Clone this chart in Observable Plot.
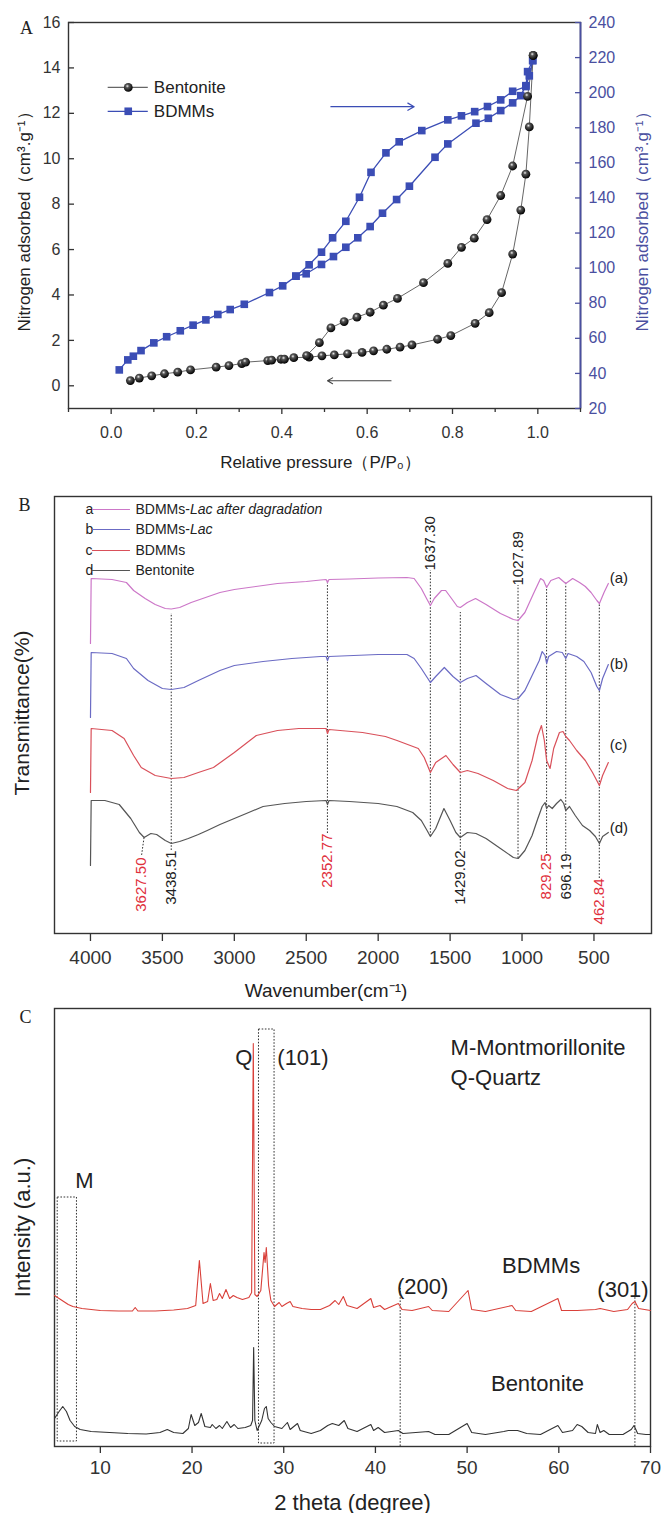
<!DOCTYPE html>
<html><head><meta charset="utf-8">
<script src="https://cdn.jsdelivr.net/npm/d3@7"></script>
<script src="https://cdn.jsdelivr.net/npm/@observablehq/plot@0.6"></script>
<style>
body{margin:0;background:#fff;}
#chart svg{display:block;}
</style></head><body><div id="chart"></div>
<script>
// ---------------- Panel A data (Relative pressure, N2 adsorbed) ----------------
const aLeftTicks = [0, 2, 4, 6, 8, 10, 12, 14, 16];
const aRightTicks = [20, 40, 60, 80, 100, 120, 140, 160, 180, 200, 220, 240];
const aMajorX = [0, 0.2, 0.4, 0.6, 0.8, 1.0];
const aMinorX = [-0.1, 0.1, 0.3, 0.5, 0.7, 0.9, 1.1];
// Bentonite (left axis, cm3/g)
const bentAds = [[0.045,0.23],[0.066,0.34],[0.095,0.44],[0.125,0.53],[0.156,0.60],[0.186,0.70],[0.246,0.82],[0.276,0.89],[0.306,0.98],[0.315,1.04],[0.367,1.11],[0.376,1.13],[0.398,1.17],[0.406,1.17],[0.428,1.24],[0.464,1.26],[0.494,1.32],[0.523,1.36],[0.554,1.41],[0.588,1.47],[0.615,1.54],[0.646,1.61],[0.677,1.70],[0.705,1.80],[0.765,2.05],[0.796,2.21],[0.853,2.75],[0.886,3.22],[0.915,4.10],[0.941,5.8],[0.960,7.74],[0.972,9.32],[0.980,11.40],[0.989,14.55]];
const bentDes = [[0.989,14.55],[0.976,12.75],[0.941,9.68],[0.913,8.38],[0.881,7.32],[0.851,6.5],[0.821,6.1],[0.789,5.39],[0.732,4.54],[0.671,3.85],[0.638,3.55],[0.607,3.24],[0.576,3.02],[0.546,2.83],[0.515,2.55],[0.488,1.90],[0.458,1.33]];
// BDMMs (right axis, cm3/g)
const bdmmAds = [[0.019,42.0],[0.039,47.7],[0.052,49.8],[0.070,53.0],[0.100,57.4],[0.130,60.9],[0.162,64.3],[0.192,67.5],[0.222,70.5],[0.250,73.6],[0.279,76.4],[0.312,79.4],[0.371,86.1],[0.402,89.9],[0.433,95.4],[0.457,96.8],[0.493,102.1],[0.521,106.6],[0.550,111.9],[0.578,117.3],[0.607,123.7],[0.636,131.3],[0.669,139.1],[0.699,146.7],[0.759,163.2],[0.789,170.8],[0.855,182.6],[0.884,185.4],[0.913,189.8],[0.941,194.2],[0.960,198.3],[0.972,204.0],[0.980,209.6],[0.988,218.3]];
const bdmmDes = [[0.988,218.3],[0.976,212.0],[0.972,203.5],[0.941,200.8],[0.913,195.9],[0.882,192.1],[0.852,189.2],[0.821,186.8],[0.789,184.5],[0.728,178.4],[0.675,172.0],[0.644,165.7],[0.609,154.6],[0.582,140.4],[0.550,126.7],[0.519,117.3],[0.493,109.1],[0.464,101.9],[0.433,95.4]];
const aLegend = [{name:"Bentonite", y:13.14}, {name:"BDMMs", y:12.09}];
const aArrowRight = [{x1:0.515, x2:0.71, r:192}];   // right-axis units
const aArrowLeft = [{x1:0.656, x2:0.507, y:0.22}];  // left-axis units

// ---------------- Panel B data (FTIR, wavenumber vs transmittance a.u.) ----------------
const bTicks = [4000, 3500, 3000, 2500, 2000, 1500, 1000, 500];
const curveA = [[4000,290],[3995,355],[3850,354],[3750,351],[3700,343],[3620,335],[3550,329],[3480,325],[3438,324.5],[3380,326],[3300,331],[3200,336],[3100,341],[3000,344],[2900,346],[2800,348],[2700,350],[2600,351],[2500,352],[2400,353.5],[2362,354],[2352,351],[2342,354],[2200,354.5],[2000,355.5],[1800,356],[1750,355],[1700,345],[1660,334],[1637,328],[1610,335],[1560,343],[1531,343],[1490,335],[1450,327],[1429,326],[1380,331],[1323,335],[1250,329],[1150,320],[1060,314],[1027,313],[980,321],[920,340],[871,355],[850,353],[829,346],[800,353],[745,356],[696,350],[648,355],[600,351],[560,347],[520,341],[480,333],[462,330],[430,341],[400,350]];
const curveB = [[4000,216],[3995,281],[3850,280],[3750,275],[3700,265],[3600,253],[3500,245],[3438,244],[3350,246],[3250,253],[3100,263],[3000,268],[2800,272],[2600,275],[2400,277],[2362,277],[2352,273],[2342,277],[2000,279],[1800,279],[1750,275],[1700,265],[1637,251],[1600,257],[1540,266],[1480,257],[1429,251],[1380,255],[1320,258],[1250,250],[1150,239],[1060,234],[1027,235],[980,243],[930,258],[880,273],[860,282],[840,278],[829,270],[815,277],[760,282],[720,281],[696,275],[680,280],[620,277],[570,272],[520,261],[480,247],[462,243],[440,255],[400,269]];
const curveC = [[4000,141],[3995,205],[3850,203],[3766,195],[3700,178],[3647,166],[3550,158],[3438,155],[3350,156],[3250,161],[3145,166],[3000,181],[2847,198],[2700,203],[2551,205],[2400,205],[2362,205],[2352,200],[2342,204],[2109,201],[1950,197],[1869,193],[1721,185],[1680,176],[1637,161],[1600,171],[1529,178],[1480,169],[1429,161],[1380,163],[1306,160],[1200,153],[1100,145],[1039,143],[980,151],[930,173],[890,198],[865,208],[845,193],[829,173],[805,165],[780,185],[740,201],[715,202],[696,197],[670,193],[620,183],[560,173],[510,161],[462,148],[440,158],[400,171]];
const curveD = [[4000,68],[3995,133],[3900,133],[3800,129],[3720,115],[3660,101],[3627,96],[3580,100],[3540,99],[3480,93],[3438,90],[3380,92],[3320,95],[3250,99],[3188,103],[3100,109],[3000,115],[2900,121],[2800,127],[2650,130],[2500,132],[2362,133],[2352,129],[2342,133],[2200,132],[2000,130],[1870,127],[1760,121],[1700,113],[1660,103],[1637,97],[1600,105],[1543,125],[1500,113],[1460,101],[1429,96],[1380,101],[1320,100],[1250,95],[1150,85],[1060,76],[1027,75],[980,83],[930,98],[890,115],[860,127],[840,131],[829,125],[815,128],[790,125],[760,130],[730,134],[710,130],[696,123],[670,127],[630,118],[580,108],[530,103],[490,97],[462,90],[440,97],[400,101]];
const bSeries = [
  {key:"a", name:"BDMMs-Lac after dagradation", color:"#cc77c8", data:curveA, legY:424, tagY:355},
  {key:"b", name:"BDMMs-Lac", color:"#6b6bc4", data:curveB, legY:404, tagY:269},
  {key:"c", name:"BDMMs", color:"#d9505a", data:curveC, legY:383, tagY:188},
  {key:"d", name:"Bentonite", color:"#555555", data:curveD, legY:363, tagY:105}
];
const bPeaks = [
  {w:3438.51, y1:83, y2:320}, {w:2352.77, y1:100, y2:353}, {w:1637.30, y1:97, y2:363},
  {w:1429.02, y1:83, y2:321}, {w:1027.89, y1:75, y2:348}, {w:829.25, y1:80, y2:348},
  {w:696.19, y1:80, y2:351}, {w:462.84, y1:55, y2:330}
];
const bLabelsBelow = [
  {w:3645, y:76, text:"3627.50", red:true}, {w:3438.51, y:83, text:"3438.51", red:false},
  {w:2352.77, y:100, text:"2352.77", red:true}, {w:1429.02, y:83, text:"1429.02", red:false},
  {w:829.25, y:80, text:"829.25", red:true}, {w:696.19, y:80, text:"696.19", red:false},
  {w:462.84, y:55, text:"462.84", red:true}
];
const bLabelsAbove = [{w:1637.30, y:363, text:"1637.30"}, {w:1027.89, y:348, text:"1027.89"}];
const bConnector = [{x1:3627.5, y1:96, x2:3645, y2:78}];

// ---------------- Panel C data (XRD, 2theta vs intensity a.u.) ----------------
const cTicks = [10, 20, 30, 40, 50, 60, 70];
const xrdBDMMs = [[5.0,151],[5.5,148],[6.0,145],[6.5,142],[7.0,140],[8,138],[9,137],[10,136],[12,135.5],[13.5,135.5],[13.8,139],[14.1,135.5],[16,135.5],[18,136.5],[19.5,138],[20.4,141],[20.8,186],[21.2,143],[21.7,145],[22.0,163],[22.3,146],[22.7,147],[23.0,153],[23.3,148],[23.7,157],[24.1,148],[24.5,151],[24.9,149],[25.5,147],[26.2,149],[26.5,154],[26.68,403],[26.85,152],[27.1,150],[27.5,156],[27.85,194],[27.97,184],[28.1,199],[28.35,161],[28.6,146],[29.0,140],[29.5,144],[29.8,140],[30.3,143],[30.7,145],[31.0,140],[32,138],[33,137],[34,137],[35.0,141],[35.6,146],[36.0,142],[36.5,150],[36.9,141],[38,138],[39.5,148],[39.8,139],[40.5,141],[41,137],[42.5,143],[42.9,137],[44,136],[45.8,140],[46.2,136],[48,135],[50.1,156],[50.5,137],[52,135],[54.9,141],[55.3,136],[57,135],[59.9,148],[60.3,136],[62,136],[64,137],[64.5,138],[66,135],[67.5,137],[68.0,143],[68.3,145],[68.7,138],[70,136]];
const xrdBent = [[5.0,28],[5.5,35],[5.9,40],[6.3,35],[6.7,26],[7.2,20],[7.8,17],[9,15],[11,14],[13,13],[15,12.5],[16.5,14],[17.3,17],[18,14],[19,13],[19.6,18],[19.9,32],[20.3,21],[20.7,24],[21.0,33],[21.4,20],[22.0,19],[22.2,22],[22.6,18],[23.0,21],[23.3,18],[23.8,25],[24.2,19],[24.6,22],[25.0,18],[25.8,19],[26.4,21],[26.6,26],[26.72,99],[26.85,26],[27.1,16],[27.6,26],[27.9,38],[28.1,40],[28.3,28],[28.6,24],[29.0,20],[29.8,18],[30.4,24],[30.7,17],[31.5,23],[31.8,16],[33,13],[34,16],[34.8,21],[35.3,23],[36.0,21],[36.6,26],[37.0,18],[38,15],[39.5,22],[39.8,16],[40.3,19],[41,14],[42.5,16],[43,13],[45.8,15],[46.5,12],[48,12],[50.0,23],[50.5,14],[52,12],[54.0,15],[54.5,16],[55.5,16],[56.5,13],[58,12],[59.9,21],[60.4,14],[61.5,16],[62.0,22],[62.5,20],[63.2,14],[64.0,13],[64.2,22],[64.5,14],[64.9,16],[65.5,12],[67,12],[67.9,17],[68.2,21],[68.6,13],[69.5,12],[70,12]];
const cBoxes = [{x1:5.35, x2:7.45, y1:5, y2:249}, {x1:27.3, x2:29.0, y1:3, y2:417}];
const cRules = [{x:42.7, y2:158}, {x:68.3, y2:150}];
const cTexts = [
  {x:24.7, y:389, text:"Q"}, {x:29.3, y:389, text:"(101)"}, {x:7.27, y:266, text:"M"},
  {x:48.2, y:399, text:"M-Montmorillonite"}, {x:48.2, y:369, text:"Q-Quartz"},
  {x:53.8, y:181, text:"BDMMs"}, {x:42.35, y:160, text:"(200)"}, {x:64.2, y:157, text:"(301)"},
  {x:52.6, y:63, text:"Bentonite"}
];

// ---------------- Rendering ----------------
const W = 665;
const font = "'Liberation Sans', Arial, Helvetica, sans-serif";
const serif = "'Liberation Serif', 'Times New Roman', serif";
const blue = "#3b4db5", axisBlue = "#4a4fa0", ink = "#333";
const X = d => d[0], Y = d => d[1];
const toL = r => -1 + (r - 20) * 17 / 220;
const fromL = l => 20 + (l + 1) * 220 / 17;
const bdmmAdsL = bdmmAds.map(([x, r]) => [x, toL(r)]);
const bdmmDesL = bdmmDes.map(([x, r]) => [x, toL(r)]);
const baseStyle = {fontFamily: font, background: "#fff", color: ink, overflow: "visible"};
const mid = {textAnchor: "middle", lineAnchor: "middle"};

const plotA = Plot.plot({
  width: W, height: 475, marginTop: 22, marginRight: 85, marginBottom: 67, marginLeft: 68,
  style: {...baseStyle, fontSize: "16px"},
  x: {domain: [-0.1, 1.1]},
  y: {domain: [-1, 16]},
  marks: [
    Plot.frame({stroke: ink, strokeWidth: 1.4}),
    Plot.ruleX([1.1], {stroke: axisBlue, strokeWidth: 1.8}),
    Plot.axisY({ticks: aLeftTicks, tickSize: -6, tickPadding: 14, label: null, fontSize: 16, stroke: ink, strokeWidth: 1.3}),
    Plot.axisY({anchor: "right", ticks: aRightTicks.map(toL), tickFormat: d => String(Math.round(fromL(d))), tickSize: -6, tickPadding: 14, label: null, color: axisBlue, fontSize: 16, strokeWidth: 1.3}),
    Plot.axisX({ticks: aMinorX, tickFormat: () => "", tickSize: 4, label: null, strokeWidth: 1.3}),
    Plot.axisX({ticks: aMajorX, tickFormat: d3.format(".1f"), tickSize: 6, tickPadding: 12, label: null, fontSize: 16, strokeWidth: 1.3}),
    Plot.line(bentAds, {x: X, y: Y, stroke: "#666", strokeWidth: 1}),
    Plot.line(bentDes, {x: X, y: Y, stroke: "#666", strokeWidth: 1}),
    Plot.line(bdmmAdsL, {x: X, y: Y, stroke: blue, strokeWidth: 1.3}),
    Plot.line(bdmmDesL, {x: X, y: Y, stroke: blue, strokeWidth: 1.3}),
    Plot.dot(bdmmAdsL.concat(bdmmDesL), {x: X, y: Y, symbol: "square", r: 4.3, fill: blue}),
    Plot.dot(bentAds.concat(bentDes), {x: X, y: Y, r: 4.4, fill: "url(#sphere)"}),
    Plot.arrow(aArrowRight, {x1: "x1", x2: "x2", y1: d => toL(d.r), y2: d => toL(d.r), stroke: blue, strokeWidth: 1.2, headLength: 9}),
    Plot.arrow(aArrowLeft, {x1: "x1", x2: "x2", y1: "y", y2: "y", stroke: "#444", strokeWidth: 1.1, headLength: 8}),
    // legend
    Plot.ruleY(aLegend, {y: "y", x1: -0.007, x2: 0.087, stroke: (d, i) => i === 0 ? "#666" : blue, strokeWidth: 1.2}),
    Plot.dot(aLegend.slice(0, 1), {x: 0.04, y: "y", r: 4.4, fill: "url(#sphere)"}),
    Plot.dot(aLegend.slice(1), {x: 0.04, y: "y", r: 4.3, symbol: "square", fill: blue}),
    Plot.text(aLegend, {x: 0.10, y: "y", text: "name", textAnchor: "start", fontSize: 17, fill: "#222"}),
    // titles
    Plot.text(["Relative pressure（P/P₀）"], {...mid, frameAnchor: "bottom", dy: 54, dx: -4, fontSize: 17, fill: "#222"}),
    Plot.text(["Nitrogen adsorbed（cm³.g⁻¹）"], {...mid, frameAnchor: "left", rotate: -90, dx: -44, dy: 2, fontSize: 17, fill: "#222"}),
    Plot.text(["Nitrogen adsorbed（cm³.g⁻¹）"], {...mid, frameAnchor: "right", rotate: -90, dx: 62, dy: 2, fontSize: 17, fill: axisBlue}),
    Plot.text(["A"], {...mid, frameAnchor: "top-left", dx: -42, dy: 6, fontFamily: serif, fontSize: 18, fill: "#222"})
  ]
});
{
  const defs = d3.select(plotA).insert("defs", ":first-child");
  const g = defs.append("radialGradient").attr("id", "sphere").attr("cx", "40%").attr("cy", "35%").attr("r", "65%");
  g.append("stop").attr("offset", "0%").attr("stop-color", "#f0f0f0");
  g.append("stop").attr("offset", "30%").attr("stop-color", "#555");
  g.append("stop").attr("offset", "100%").attr("stop-color", "#000");
}

const plotB = Plot.plot({
  width: W, height: 525, marginTop: 21, marginRight: 14, marginBottom: 67, marginLeft: 54,
  style: {...baseStyle, fontSize: "15px"},
  x: {domain: [4250, 100]},
  y: {domain: [0, 437], axis: null},
  marks: [
    Plot.frame({stroke: ink, strokeWidth: 1.4}),
    Plot.axisX({ticks: bTicks, tickFormat: d => String(d), tickSize: 8, tickPadding: 9, label: null, fontSize: 19, strokeWidth: 1.3}),
    Plot.ruleX(bPeaks, {x: "w", y1: "y1", y2: "y2", stroke: "#333", strokeWidth: 1, strokeDasharray: "1.6,1.6"}),
    Plot.link(bConnector, {x1: "x1", y1: "y1", x2: "x2", y2: "y2", stroke: "#333", strokeWidth: 1, strokeDasharray: "1.6,1.6"}),
    ...bSeries.map(s => Plot.line(s.data, {x: X, y: Y, stroke: s.color, strokeWidth: 1.2})),
    Plot.text(bLabelsBelow, {x: "w", y: "y", text: "text", rotate: -90, textAnchor: "end", fontSize: 15, fill: d => d.red ? "#e0303c" : "#222"}),
    Plot.text(bLabelsAbove, {x: "w", y: "y", text: "text", rotate: -90, textAnchor: "start", fontSize: 15, fill: "#222"}),
    Plot.text(bSeries, {x: 390, y: "tagY", text: d => "(" + d.key + ")", textAnchor: "start", fontSize: 15, fill: "#222"}),
    // legend
    Plot.text(bSeries, {x: 4035, y: "legY", text: "key", textAnchor: "start", fontSize: 14, fill: "#222"}),
    Plot.ruleY(bSeries, {y: "legY", x1: 3986, x2: 3722, stroke: "color", strokeWidth: 1.2}),
    Plot.text(bSeries, {x: 3687, y: "legY", text: "name", textAnchor: "start", fontSize: 14, fill: "#222"}),
    // titles
    Plot.text(["Wavenumber(cm⁻¹)"], {...mid, frameAnchor: "bottom", dy: 57, dx: -27, fontSize: 19, fill: "#222"}),
    Plot.text(["Transmittance(%)"], {...mid, frameAnchor: "left", rotate: -90, dx: -32, dy: -2, fontSize: 21, fill: "#222"}),
    Plot.text(["B"], {...mid, frameAnchor: "top-left", dx: -30, dy: 9, fontFamily: serif, fontSize: 18, fill: "#222"})
  ]
});
// italicize "Lac ..." in legend entries
d3.select(plotB).selectAll("text").each(function () {
  const t = this.textContent;
  if (t.startsWith("BDMMs-Lac")) {
    const rest = t.slice(6);
    this.textContent = "BDMMs-";
    d3.select(this).append("tspan").attr("font-style", "italic").text(rest);
  }
});

const plotC = Plot.plot({
  width: W, height: 513, marginTop: 8, marginRight: 15, marginBottom: 67, marginLeft: 54,
  style: {...baseStyle, fontSize: "19px"},
  x: {domain: [5, 70]},
  y: {domain: [0, 438], axis: null},
  marks: [
    Plot.frame({stroke: ink, strokeWidth: 1.4}),
    Plot.axisX({ticks: cTicks, tickSize: 7, tickPadding: 7, label: null, fontSize: 19, strokeWidth: 1.3}),
    Plot.rect(cBoxes, {x1: "x1", x2: "x2", y1: "y1", y2: "y2", fill: "none", stroke: "#333", strokeWidth: 1, strokeDasharray: "1.6,1.6"}),
    Plot.ruleX(cRules, {x: "x", y1: 0, y2: "y2", stroke: "#333", strokeWidth: 1, strokeDasharray: "1.6,1.6"}),
    Plot.line(xrdBent, {x: X, y: Y, stroke: "#333", strokeWidth: 1.1}),
    Plot.line(xrdBDMMs, {x: X, y: Y, stroke: "#d9403a", strokeWidth: 1.1}),
    Plot.text(cTexts, {x: "x", y: "y", text: "text", textAnchor: "start", fontSize: 22, fill: "#222"}),
    Plot.text(["2 theta (degree)"], {...mid, frameAnchor: "bottom", dy: 56, fontSize: 22, fill: "#222"}),
    Plot.text(["Intensity (a.u.)"], {...mid, frameAnchor: "left", rotate: -90, dx: -32, fontSize: 22, fill: "#222"}),
    Plot.text(["C"], {...mid, frameAnchor: "top-left", dx: -29, dy: 9, fontFamily: serif, fontSize: 18, fill: "#222"})
  ]
});

const root = document.getElementById("chart");
root.append(plotA, plotB, plotC);
</script></body></html>
